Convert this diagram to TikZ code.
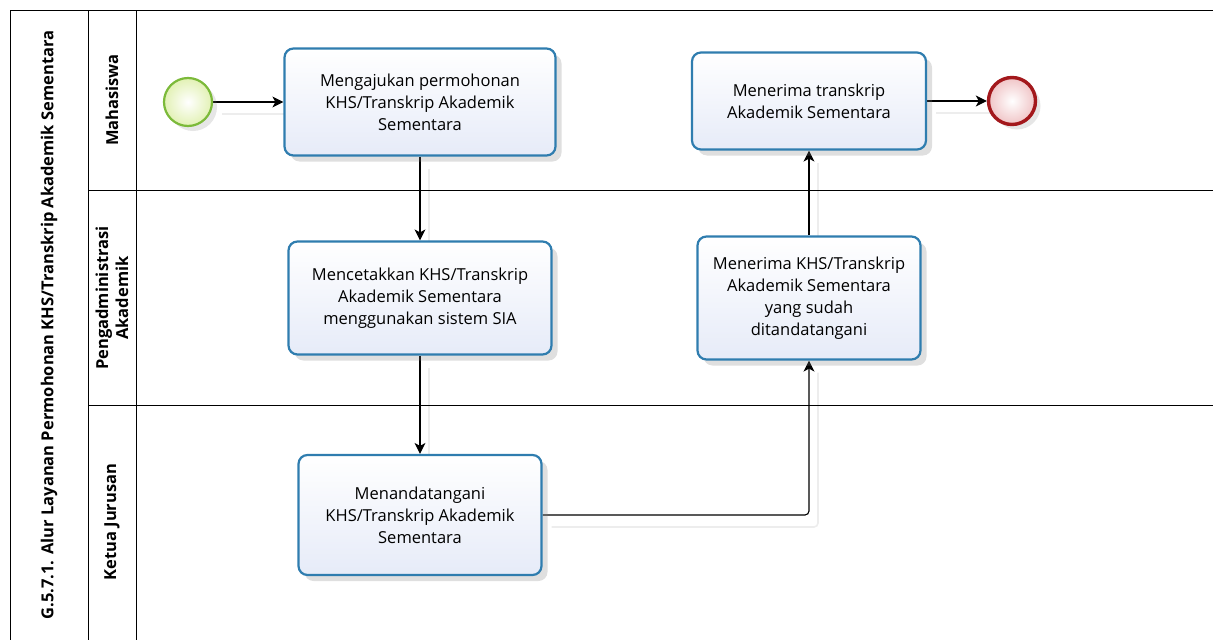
\documentclass[tikz,border=0pt]{standalone}
\usepackage{fontspec}
\setmainfont{Open Sans}
\usetikzlibrary{arrows.meta,shadows,backgrounds}

\definecolor{taskline}{HTML}{2F7DAF}
\definecolor{taskfill}{HTML}{E6EBF8}
\definecolor{startline}{HTML}{7CBA3A}
\definecolor{startfill}{HTML}{E2F1B4}
\definecolor{endline}{HTML}{A3181C}
\definecolor{endfill}{HTML}{F0C4C6}

\tikzset{
  task/.style={draw=taskline, line width=2.2pt, rounded corners=9pt,
    top color=white, bottom color=taskfill, align=center,
    minimum width=#1, inner sep=0pt,
    drop shadow={shadow xshift=6pt, shadow yshift=-6pt, opacity=0.25}},
  startev/.style={circle, draw=startline, line width=2.2pt, minimum size=48pt,
    inner color=white, outer color=startfill,
    drop shadow={shadow xshift=5pt, shadow yshift=-5pt, opacity=0.2}},
  endev/.style={circle, draw=endline, line width=3.4pt, minimum size=47pt,
    inner color=white, outer color=endfill,
    drop shadow={shadow xshift=5pt, shadow yshift=-5pt, opacity=0.2}},
  flow/.style={line width=1.1pt, -{Stealth[length=11pt,width=11pt,inset=3pt]},
    preaction={draw=black!7, line width=1.6pt, -, transform canvas={shift={(9,12)}}}},
  lanelbl/.style={rotate=90, font=\fontsize{16.5}{20}\selectfont\bfseries, align=center}
}

\begin{document}
\begin{tikzpicture}[x=1pt, y=-1pt, font=\fontsize{16.5}{22}\selectfont]
\useasboundingbox (0,0) rectangle (1213,640);
% pool and lanes
\draw[line width=1pt] (1213,10) -- (10,10) -- (10,640); % outer frame
\draw[line width=1pt] (88,10) -- (88,640); % title column
\draw[line width=1pt] (136,10) -- (136,640); % lane headers
\draw[line width=1pt] (88,190) -- (1213,190); % Mahasiswa | Pengadministrasi
\draw[line width=1pt] (88,405) -- (1213,405); % Pengadministrasi | Ketua
\node[lanelbl] (judul) at (49,325) {G.5.7.1. Alur Layanan Permohonan KHS/Transkrip Akademik Sementara};
\node[lanelbl] (mhs) at (112,100) {Mahasiswa};
\node[lanelbl] (adm) at (112,298) {Pengadministrasi\\Akademik};
\node[lanelbl] (kajur) at (112,522) {Ketua Jurusan};
% events and tasks
\node[startev] (mulai) at (188,102) {};
\node[task=271pt, minimum height=107pt] (ajukan) at (420,102) {Mengajukan permohonan\\KHS/Transkrip Akademik\\Sementara};
\node[task=263pt, minimum height=113pt] (cetak) at (420,298) {Mencetakkan KHS/Transkrip\\Akademik Sementara\\menggunakan sistem SIA};
\node[task=243pt, minimum height=120pt] (tanda) at (420,515) {Menandatangani\\KHS/Transkrip Akademik\\Sementara};
\node[task=223pt, minimum height=123pt] (terimaKHS) at (809,298) {Menerima KHS/Transkrip\\Akademik Sementara\\yang sudah\\ditandatangani};
\node[task=234pt, minimum height=97pt] (terima) at (809,101) {Menerima transkrip\\Akademik Sementara};
\node[endev] (selesai) at (1012,101) {};
% sequence flows, kept under the boxes
\begin{scope}[on background layer]
\draw[flow] (mulai) -- (ajukan);
\draw[flow] (ajukan) -- (cetak);
\draw[flow] (cetak) -- (tanda);
\draw[flow, rounded corners=4pt] (tanda.east) -| (terimaKHS.south);
\draw[flow] (terimaKHS) -- (terima);
\draw[flow] (terima) -- (selesai);
\end{scope}
\end{tikzpicture}
\end{document}
